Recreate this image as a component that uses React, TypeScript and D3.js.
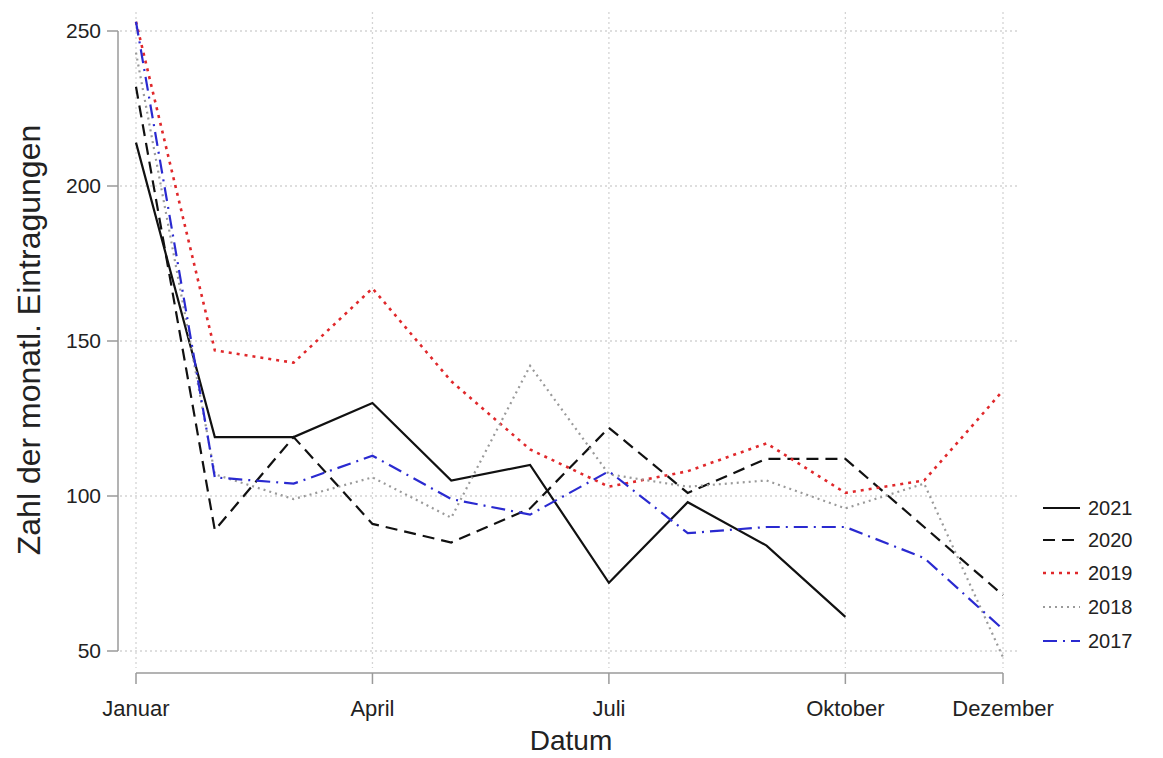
import React from "react";
import * as d3 from "d3";

const months = ["Januar","Februar","März","April","Mai","Juni","Juli","August","September","Oktober","November","Dezember"];
const tickMonths = [0, 3, 6, 9, 11];
const yTicks = [50, 100, 150, 200, 250];

const years = ["2021", "2020", "2019", "2018", "2017"];
const v2021 = [214, 119, 119, 130, 105, 110, 72, 98, 84, 61];
const v2020 = [232, 89, 119, 91, 85, 96, 122, 101, 112, 112, 90, 68];
const v2019 = [253, 147, 143, 167, 137, 115, 103, 108, 117, 101, 105, 134];
const v2018 = [243, 107, 99, 106, 93, 142, 107, 103, 105, 96, 104, 48];
const v2017 = [253, 106, 104, 113, 99, 94, 108, 88, 90, 90, 80, 57];

const seriesValues = [v2021, v2020, v2019, v2018, v2017];
const colors = ["#111111", "#111111", "#e0282b", "#9a9a9a", "#2a2ad0"];
const dashes = ["none", "12,7", "3,5", "2,4", "14,6,2,6"];
const widths = [2.2, 2.2, 2.6, 2.2, 2.2];

export default function App() {
  const W = 1163, H = 758;
  const x = d3.scaleLinear().domain([0, 11]).range([136, 1003]);
  const y = d3.scaleLinear().domain([50, 250]).range([651, 31]);
  const line = d3.line<number>().x((_, i) => x(i)).y(d => y(d));
  const font = "'Liberation Sans', Arial, sans-serif";
  const gridColor = "#d4d4d4";
  const axisColor = "#9a9a9a";
  const legendY = [508, 540, 573, 607, 641];

  return (
    <svg width={W} height={H} style={{ position: "absolute", left: 0, top: 0, background: "#fff" }} fontFamily={font}>
      {/* grid */}
      {yTicks.map(t => (
        <line key={"gy" + t} x1={120} x2={1020} y1={y(t)} y2={y(t)} stroke={gridColor} strokeDasharray="2,3" strokeWidth={1.3} />
      ))}
      {tickMonths.map(m => (
        <line key={"gx" + m} x1={x(m)} x2={x(m)} y1={12} y2={668} stroke={gridColor} strokeDasharray="2,3" strokeWidth={1.3} />
      ))}
      {/* y axis */}
      <line x1={118} x2={118} y1={y(250)} y2={y(50)} stroke={axisColor} strokeWidth={1.5} />
      {yTicks.map(t => (
        <g key={"ty" + t}>
          <line x1={107} x2={118} y1={y(t)} y2={y(t)} stroke={axisColor} strokeWidth={1.5} />
          <text x={101} y={y(t)} dy="0.35em" textAnchor="end" fontSize={21} fill="#222">{t}</text>
        </g>
      ))}
      {/* x axis */}
      <line x1={x(0)} x2={x(11)} y1={673} y2={673} stroke={axisColor} strokeWidth={1.5} />
      {tickMonths.map(m => (
        <g key={"tx" + m}>
          <line x1={x(m)} x2={x(m)} y1={673} y2={684} stroke={axisColor} strokeWidth={1.5} />
          <text x={x(m)} y={716} textAnchor="middle" fontSize={22} fill="#222">{months[m]}</text>
        </g>
      ))}
      <text x={571} y={750} textAnchor="middle" fontSize={28} fill="#222">Datum</text>
      <text transform={`translate(40,340) rotate(-90)`} textAnchor="middle" fontSize={32} fill="#222">Zahl der monatl. Eintragungen</text>
      {/* series */}
      {seriesValues.map((vals, i) => (
        <path key={"s" + i} d={line(vals) || ""} fill="none" stroke={colors[i]} strokeWidth={widths[i]} strokeDasharray={dashes[i]} />
      ))}
      {/* legend */}
      {years.map((yr, i) => {
        const ly = legendY[i];
        return (
          <g key={"lg" + yr}>
            <line x1={1043} x2={1080} y1={ly} y2={ly} stroke={colors[i]} strokeWidth={widths[i]} strokeDasharray={dashes[i]} />
            <text x={1088} y={ly} dy="0.35em" fontSize={20} fill="#222">{yr}</text>
          </g>
        );
      })}
    </svg>
  );
}
